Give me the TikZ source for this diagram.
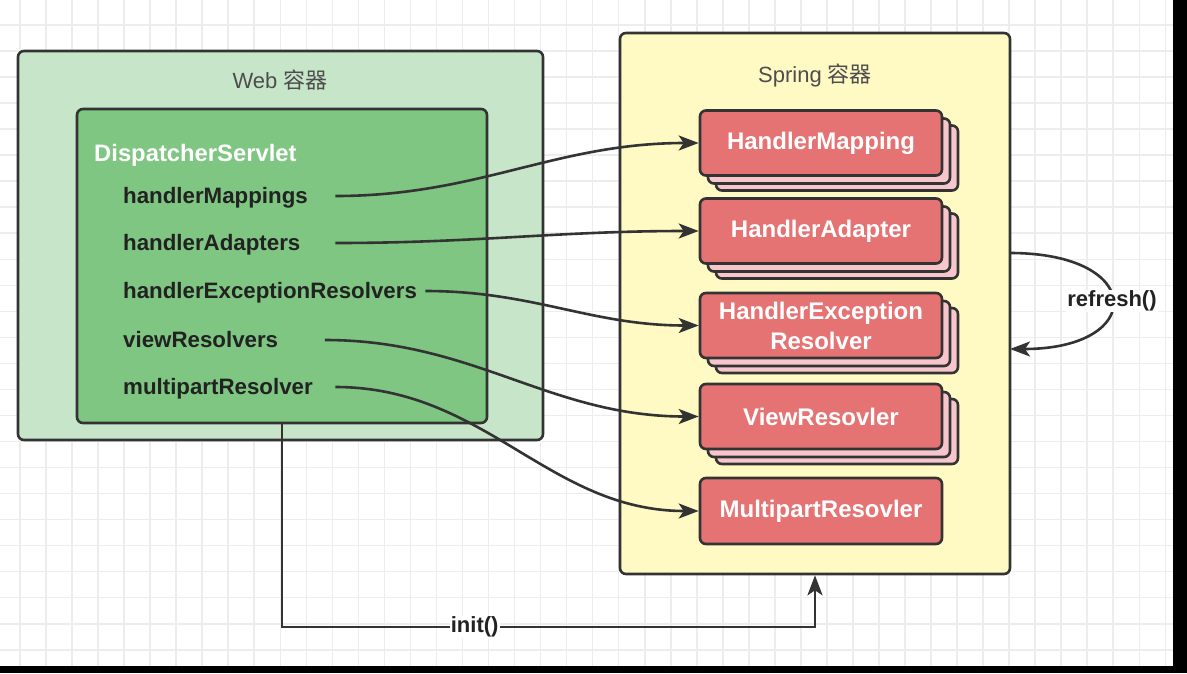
\documentclass[tikz,border=0pt]{standalone}
\usepackage{fontspec}
\setmainfont{Liberation Sans}
\newfontfamily\cjk{Noto Sans CJK SC}
\usetikzlibrary{arrows.meta,shadows}
\definecolor{dk}{HTML}{333333}
\definecolor{txt}{HTML}{222222}
\definecolor{ttl}{HTML}{4D4D4D}
\definecolor{webg}{HTML}{C7E6C9}
\definecolor{dsg}{HTML}{7EC681}
\definecolor{springy}{HTML}{FFF9C4}
\definecolor{redf}{HTML}{E57373}
\definecolor{pinkb}{HTML}{F7C6CC}
\definecolor{gridc}{HTML}{EDEDED}
\tikzset{
  gridline/.style={draw=gridc, line width=1.6pt},
  container/.style={draw=dk, line width=2.6pt, rounded corners=6pt, inner sep=0pt},
  ttlstyle/.style={text=ttl, font=\fontsize{22}{26}\selectfont, inner sep=0pt},
  lbl/.style={anchor=base west, text=txt, font=\fontsize{22.3}{26}\selectfont\bfseries,
    inner sep=0pt, align=left, text height=17pt, text depth=3pt},
  redbox/.style={draw=dk, line width=2.6pt, rounded corners=6pt, fill=redf,
    minimum width=242pt, minimum height=65pt, inner sep=0pt, align=center,
    text=white, font=\fontsize{24}{30}\selectfont\bfseries},
  stack/.style={
    general shadow={shadow xshift=16pt, shadow yshift=-15pt, fill=pinkb, draw=dk, line width=2.6pt},
    general shadow={shadow xshift=8pt, shadow yshift=-8pt, fill=pinkb, draw=dk, line width=2.6pt}},
  conn/.style={draw=dk, line width=2.6pt, -{Stealth[length=20pt, width=15pt, inset=5pt]}},
  lab/.style={text=txt, font=\fontsize{22}{26}\selectfont\bfseries, inner sep=1pt, fill=white}
}
\begin{document}
\begin{tikzpicture}[x=1pt, y=-1pt]
\useasboundingbox (0,0) rectangle (1187,673);
\fill[white] (0,0) rectangle (1173,666);
\foreach \i in {0,...,44} \draw[gridline] ({20+26.03*\i},0) -- ({20+26.03*\i},666);
\foreach \j in {1,...,25} \draw[gridline] (0,{-1+26.03*\j}) -- (1173,{-1+26.03*\j});
\fill[black] (1173,0) rectangle (1187,673);
\fill[black] (0,666) rectangle (1187,673);

% Web container
\node[container, fill=webg, minimum width=525pt, minimum height=389pt] (web) at (280.5,245.5) {};
\node[ttlstyle] (webt) at (280,80) {Web {\cjk 容器}};
\node[container, fill=dsg, minimum width=410pt, minimum height=314pt] (ds) at (282,266) {};
\node[anchor=base west, inner sep=0pt, text=white, font=\fontsize{23.8}{27}\selectfont\bfseries] (dst) at (94,161.7) {DispatcherServlet};
\node[lbl, text width=212pt] (lhm) at (123,203) {handlerMappings};
\node[lbl, text width=212pt] (lha) at (123,250) {handlerAdapters};
\node[lbl, text width=302pt] (lher) at (123,298) {handlerExceptionResolvers};
\node[lbl, text width=201.5pt] (lvr) at (123,347) {viewResolvers};
\node[lbl, text width=212pt] (lmr) at (123,394) {multipartResolver};

% Spring container
\node[container, fill=springy, minimum width=390pt, minimum height=541pt] (spring) at (815,303.5) {};
\node[ttlstyle] (springt) at (815,75) {Spring {\cjk 容器}};
\node[redbox, stack] (hm) at (821,143) {HandlerMapping};
\node[redbox, stack] (ha) at (821,231) {HandlerAdapter};
\node[redbox, stack] (her) at (821,325.5) {HandlerException\\Resolver};
\node[redbox, stack] (vr) at (821,416.5) {ViewResovler};
\node[redbox, minimum height=66pt] (mr) at (821,511) {MultipartResovler};

% connectors
\draw[conn] (lhm.east) to[out=0, in=180] (hm.west);
\draw[conn] (lha.east) to[out=0, in=180] (ha.west);
\draw[conn] (lher.east) to[out=0, in=180] (her.west);
\draw[conn] (lvr.east) to[out=0, in=180] (vr.west);
\draw[conn] (lmr.east) to[out=0, in=180] (mr.west);

\coordinate (rs) at (1010,253);
\coordinate (re) at (1010,349);
\draw[conn] (rs) .. controls +(136,0) and +(136,0) .. (re) node[lab, pos=0.5] (rf) {refresh()};

\draw[conn] (ds.south) |- (spring.south |- 0,627) -- (spring.south);
\node[lab] (init) at (474.7,627) {init()};
\end{tikzpicture}
\end{document}
